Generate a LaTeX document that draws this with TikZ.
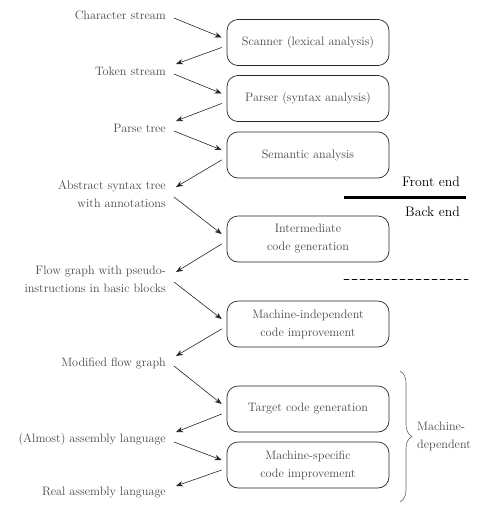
\documentclass[tikz,border=0pt]{standalone}
\usepackage{tikz}
\usetikzlibrary{arrows.meta,calc,positioning,decorations.pathreplacing}

\begin{document}
\begin{tikzpicture}[x=1pt, y=-1pt, line cap=round, line join=round,
    phase/.style={draw=black!85, line width=0.7pt, rounded corners=11pt,
      minimum width=162pt, minimum height=46pt, align=center,
      text=labelcol, font=\fontsize{12.2}{18}\selectfont},
    data/.style={anchor=east, align=right, inner sep=0pt,
      text=labelcol, font=\fontsize{12.2}{18}\selectfont},
    side/.style={anchor=east, inner sep=0pt, font=\fontsize{13.8}{16}\selectfont},
    flow/.style={-{Stealth[length=7pt,width=5.5pt]}, draw=black!85, line width=0.6pt}]
  \colorlet{labelcol}{black!72}
  \useasboundingbox (0,0) rectangle (482,509);
  % compiler phases
  \node[phase] (scan)   at (308,42.5) {Scanner (lexical analysis)};
  \node[phase] (pars)   at (308,98.5) {Parser (syntax analysis)};
  \node[phase] (sema)   at (308,155)  {Semantic analysis};
  \node[phase] (inter)  at (308,239)  {Intermediate\\code generation};
  \node[phase] (indep)  at (308,324)  {Machine-independent\\code improvement};
  \node[phase] (target) at (308,409)  {Target code generation};
  \node[phase] (spec)   at (308,465)  {Machine-specific\\code improvement};
  % intermediate forms
  \node[data] (chars)  at (166,15)  {Character stream};
  \node[data] (tokens) at (166,71)  {Token stream};
  \node[data] (ptree)  at (166,128) {Parse tree};
  \node[data] (ast)    at (166,194) {Abstract syntax tree\\with annotations};
  \node[data] (fgraph) at (166,279) {Flow graph with pseudo-\\instructions in basic blocks};
  \node[data] (mfg)    at (166,363) {Modified flow graph};
  \node[data] (asm)    at (166,439) {(Almost) assembly language};
  \node[data] (real)   at (166,493) {Real assembly language};
  % connectors
  \foreach \src/\dst in {chars/scan, tokens/pars, ptree/sema, ast/inter,
                         fgraph/indep, mfg/target, asm/spec} {%
    \draw[flow] ($(\src.east)+(8,3)$) -- ($(\dst.west)+(-5,-5)$);
  }
  \foreach \src/\dst in {scan/tokens, pars/ptree, sema/ast, inter/fgraph,
                         indep/mfg, target/asm, spec/real} {%
    \draw[flow] ($(\src.west)+(-5,5)$) -- ($(\dst.east)+(10,-7)$);
  }
  % front end / back end
  \node[side] (front) at (460,182) {Front end};
  \node[side] (back)  at (460,212) {Back end};
  \draw[line width=3pt, line cap=butt] (344,197) -- (466,197);
  \draw[line width=0.6pt, dash pattern=on 5pt off 3pt] (344,279) -- (468,279);
  % machine dependent part
  \draw[decorate, decoration={brace, amplitude=12pt}, draw=black!60, line width=0.6pt]
    (400,371) -- (400,502);
  \node[anchor=west, align=left, inner sep=0pt, text=labelcol,
        font=\fontsize{12.2}{18}\selectfont] (mdep) at (417,436.5) {Machine-\\dependent};
\end{tikzpicture}
\end{document}
